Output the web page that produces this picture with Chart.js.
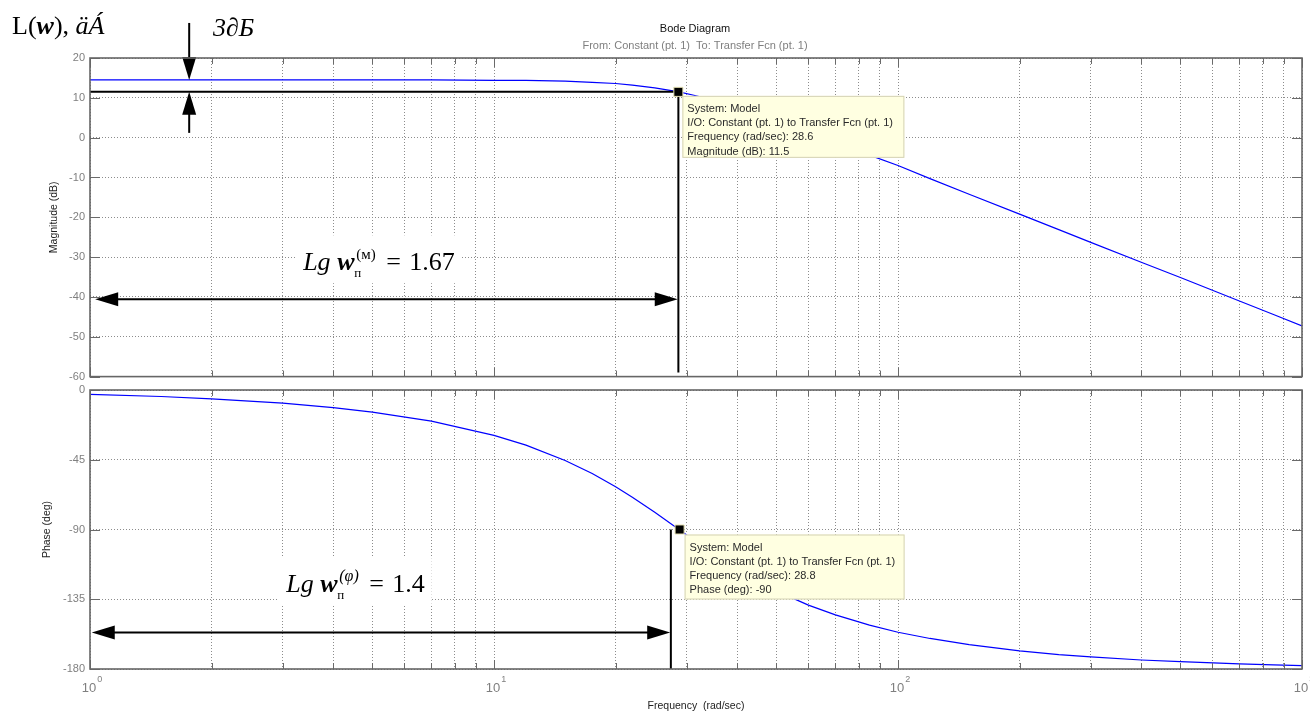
<!doctype html>
<html lang="en">
<head>
<meta charset="utf-8">
<title>Bode Diagram</title>
<script src="https://cdn.jsdelivr.net/npm/chart.js"></script>
<style>
    body { margin: 0; background: #fff; }
    canvas { position: absolute; left: 0; }
    #magChart { top: 0; }
    #phaseChart { top: 380px; }
</style>
</head>
<body>
<canvas id="magChart" width="1310" height="384"></canvas>
<canvas id="phaseChart" width="1310" height="332"></canvas>

<script>
    // frequency response
    var freq = [1, 1.5, 2, 3, 4, 5, 7, 10, 12, 15, 17.5, 20, 22, 25, 28.7, 32, 35, 40, 45, 50,
        60, 70, 85, 100, 120, 150, 200, 250, 300, 400, 500, 700, 850, 1000];
    var magDb = [14.5, 14.5, 14.5, 14.5, 14.5, 14.5, 14.5, 14.4, 14.4, 14.2, 13.9, 13.6, 13.2, 12.5, 11.5, 10.4, 9.4, 7.7, 6.0, 4.4,
        1.5, -1.1, -4.4, -7.0, -10.3, -14.2, -19.2, -23.1, -26.3, -31.3, -35.1, -41.0, -44.4, -47.3];
    var phaseDeg = [-2.8, -4.2, -5.7, -8.5, -11.4, -14.3, -20.1, -29.3, -35.6, -45.5, -53.9, -62.4, -69.2, -78.9, -90, -98.8, -105.8, -115.6, -123.3, -129.6,
        -138.8, -145.1, -151.7, -156.3, -160.3, -164.3, -168.3, -170.7, -172.2, -174.2, -175.3, -176.7, -177.3, -177.8];

    // data tips
    var magTipFreq = [28.6];
    var magTipDb = [11.5];
    var phaseTipFreq = [28.8];
    var phaseTipDeg = [-90];

    // axes
    var decadeExp = [0, 1, 2, 3];
    var magTicks = [20, 10, 0, -10, -20, -30, -40, -50, -60];
    var phaseTicks = [0, -45, -90, -135, -180];

    var sans = '"Liberation Sans", Arial, sans-serif';
    var serif = '"Liberation Serif", "Times New Roman", serif';
    var gridColor = '#8c8c8c';

    var freqTicks = [];
    decadeExp.forEach(function(e) {
        if (e === decadeExp[decadeExp.length - 1]) {
            freqTicks.push(Math.pow(10, e));
            return;
        }
        for (var m = 1; m <= 9; m++) freqTicks.push(m * Math.pow(10, e));
    });

    function xy(xs, ys) {
        return xs.map(function(x, i) { return {x: x, y: ys[i]}; });
    }

    function pt(chart, f, v) {
        return {x: chart.scales.x.getPixelForValue(f), y: chart.scales.y.getPixelForValue(v)};
    }

    function line(ctx, a, b) {
        ctx.beginPath();
        ctx.moveTo(a.x, a.y);
        ctx.lineTo(b.x, b.y);
        ctx.stroke();
    }

    function head(ctx, x, y, dx, dy) {
        var len = 23, hw = 7;
        var bx = x - dx * len, by = y - dy * len;
        ctx.beginPath();
        ctx.moveTo(x, y);
        ctx.lineTo(bx - dy * hw, by + dx * hw);
        ctx.lineTo(bx + dy * hw, by - dx * hw);
        ctx.closePath();
        ctx.fill();
    }

    function hArrow(ctx, l, r) {
        line(ctx, {x: l.x + 10, y: l.y}, {x: r.x - 10, y: r.y});
        head(ctx, l.x, l.y, -1, 0);
        head(ctx, r.x, r.y, 1, 0);
    }

    function drawLg(ctx, pos, sup, supFont, val) {
        var x = pos.x, y = pos.y;
        ctx.save();
        ctx.font = '26px ' + serif;
        var right = x + 106 + ctx.measureText(val).width + 7;
        ctx.fillStyle = '#fff';
        ctx.fillRect(x - 8, y - 35, right - (x - 8), 48);
        ctx.fillStyle = '#000';
        ctx.textAlign = 'left';
        ctx.textBaseline = 'alphabetic';
        ctx.font = 'italic 26px ' + serif;
        ctx.fillText('Lg', x, y);
        ctx.font = 'italic bold 26px ' + serif;
        ctx.fillText('w', x + 34, y);
        ctx.font = '13px ' + serif;
        ctx.fillText('п', x + 51, y + 7);
        ctx.font = supFont;
        ctx.fillText(sup, x + 53, y - 11);
        ctx.font = '26px ' + serif;
        ctx.fillText('=', x + 83, y);
        ctx.fillText(val, x + 106, y);
        ctx.restore();
    }

    function drawTip(ctx, x, y, w, h, lines) {
        ctx.save();
        ctx.fillStyle = '#ffffe1';
        ctx.fillRect(x, y, w, h);
        ctx.strokeStyle = '#d4d2b4';
        ctx.lineWidth = 1;
        ctx.strokeRect(x + 0.5, y + 0.5, w - 1, h - 1);
        ctx.fillStyle = '#2a2a2a';
        ctx.font = '11px ' + sans;
        ctx.textAlign = 'left';
        ctx.textBaseline = 'middle';
        lines.forEach(function(s, i) {
            ctx.fillText(s, x + 5, y + 13 + i * 14.3);
        });
        ctx.restore();
    }

    function isDecade(v) {
        var l = Math.log10(v);
        return Math.abs(l - Math.round(l)) < 1e-9;
    }

    var framePlugin = {
        id: 'frame',
        afterDraw: function(chart) {
            var ctx = chart.ctx, a = chart.chartArea;
            var xs = chart.scales.x, ys = chart.scales.y;
            ctx.save();
            ctx.strokeStyle = '#6a6a6a';
            ctx.lineWidth = 1;
            ctx.beginPath();
            xs.ticks.forEach(function(t) {
                var x = Math.round(xs.getPixelForValue(t.value)) + 0.5;
                var len = isDecade(t.value) ? 9 : 6;
                ctx.moveTo(x, a.bottom);
                ctx.lineTo(x, a.bottom - len);
                ctx.moveTo(x, a.top);
                ctx.lineTo(x, a.top + len);
            });
            ys.ticks.forEach(function(t) {
                var y = Math.round(ys.getPixelForValue(t.value)) + 0.5;
                ctx.moveTo(a.left, y);
                ctx.lineTo(a.left + 10, y);
                ctx.moveTo(a.right, y);
                ctx.lineTo(a.right - 10, y);
            });
            ctx.stroke();
            ctx.lineWidth = 1.6;
            ctx.strokeStyle = '#666';
            ctx.strokeRect(a.left, a.top, a.right - a.left, a.bottom - a.top);
            ctx.restore();
        }
    };

    var magOverlay = {
        id: 'magOverlay',
        afterDatasetDraw: function(chart, args) {
            if (args.index !== 0) return;
            var ctx = chart.ctx;
            var p = function(f, v) { return pt(chart, f, v); };
            drawLg(ctx, p(3.37, -33.3), '(м)', '15px ' + serif, '1.67');

            ctx.save();
            ctx.strokeStyle = '#000';
            ctx.fillStyle = '#000';
            ctx.lineWidth = 2;
            var tip = p(magTipFreq[0], magTipDb[0]);
            line(ctx, p(1, magTipDb[0]), tip);
            line(ctx, tip, p(magTipFreq[0], -59));
            hArrow(ctx, p(1.03, -40.6), p(28.5, -40.6));

            // 3 dB arrows
            var top = p(1.76, 28.8), hi = p(1.76, magDb[0]);
            var lo = p(1.76, magTipDb[0]), tail = p(1.76, 1.2);
            line(ctx, top, {x: hi.x, y: hi.y - 10});
            head(ctx, hi.x, hi.y, 0, 1);
            line(ctx, {x: lo.x, y: lo.y + 10}, tail);
            head(ctx, lo.x, lo.y, 0, -1);
            ctx.restore();

            drawTip(ctx, tip.x + 4, tip.y + 4, 222, 62, [
                'System: Model',
                'I/O: Constant (pt. 1) to Transfer Fcn (pt. 1)',
                'Frequency (rad/sec): ' + magTipFreq[0],
                'Magnitude (dB): ' + magTipDb[0]
            ]);
        },
        afterDraw: function(chart) {
            var ctx = chart.ctx, a = chart.chartArea;
            var cx = (a.left + a.right) / 2 - 1;
            ctx.save();
            ctx.textAlign = 'center';
            ctx.textBaseline = 'middle';
            ctx.font = '11px ' + sans;
            ctx.fillStyle = '#111';
            ctx.fillText('Bode Diagram', cx, a.top - 29);
            ctx.fillStyle = '#7f7f7f';
            ctx.fillText('From: Constant (pt. 1)  To: Transfer Fcn (pt. 1)', cx, a.top - 12);

            // hand-written labels at top left
            ctx.fillStyle = '#000';
            ctx.textAlign = 'left';
            ctx.textBaseline = 'alphabetic';
            var x = a.left - 78, y = a.top - 24;
            ctx.font = '26px ' + serif;
            ctx.fillText('L(', x, y);
            x += ctx.measureText('L(').width;
            ctx.font = 'italic bold 26px ' + serif;
            ctx.fillText('w', x, y);
            x += ctx.measureText('w').width;
            ctx.font = '26px ' + serif;
            ctx.fillText('), ', x, y);
            x += ctx.measureText('), ').width;
            ctx.font = 'italic 26px ' + serif;
            ctx.fillText('äÁ', x, y);
            ctx.font = 'italic 26px ' + serif;
            ctx.fillText('3∂Б', a.left + 123, a.top - 22);
            ctx.restore();
        }
    };

    var phaseOverlay = {
        id: 'phaseOverlay',
        afterDatasetDraw: function(chart, args) {
            if (args.index !== 0) return;
            var ctx = chart.ctx;
            var p = function(f, v) { return pt(chart, f, v); };
            drawLg(ctx, p(3.06, -130.3), '(φ)', 'italic 16px ' + serif, '1.4');

            ctx.save();
            ctx.strokeStyle = '#000';
            ctx.fillStyle = '#000';
            ctx.lineWidth = 2;
            line(ctx, p(27.4, phaseTipDeg[0]), p(27.4, -180));
            hArrow(ctx, p(1.01, -156.5), p(27.3, -156.5));
            ctx.restore();

            var tip = p(phaseTipFreq[0], phaseTipDeg[0]);
            drawTip(ctx, tip.x + 5, tip.y + 5, 220, 65, [
                'System: Model',
                'I/O: Constant (pt. 1) to Transfer Fcn (pt. 1)',
                'Frequency (rad/sec): ' + phaseTipFreq[0],
                'Phase (deg): ' + phaseTipDeg[0]
            ]);
        },
        afterDraw: function(chart) {
            var ctx = chart.ctx, a = chart.chartArea, xs = chart.scales.x;
            ctx.save();
            ctx.fillStyle = '#7f7f7f';
            ctx.textBaseline = 'middle';
            decadeExp.forEach(function(e) {
                var x = xs.getPixelForValue(Math.pow(10, e));
                ctx.font = '13px ' + sans;
                ctx.textAlign = 'center';
                ctx.fillText('10', x - 1, a.bottom + 19);
                var w = ctx.measureText('10').width;
                ctx.font = '9px ' + sans;
                ctx.textAlign = 'left';
                ctx.fillText(String(e), x - 1 + w / 2 + 1, a.bottom + 11);
            });
            ctx.restore();
        }
    };

    function xScale(extra) {
        var s = {
            type: 'logarithmic',
            min: 1,
            max: 1000,
            afterBuildTicks: function(sc) {
                sc.ticks = freqTicks.map(function(v) { return {value: v}; });
            },
            grid: {color: gridColor, drawTicks: false},
            border: {display: false, dash: [1, 2]},
            ticks: {display: false}
        };
        return Object.assign(s, extra);
    }

    function yScale(min, max, ticks, title, titlePad) {
        return {
            min: min,
            max: max,
            afterBuildTicks: function(sc) {
                sc.ticks = ticks.map(function(v) { return {value: v}; });
            },
            afterFit: function(sc) {
                sc.width = 90;
                sc.paddingTop = 0;
                sc.paddingBottom = 0;
            },
            grid: {color: gridColor, drawTicks: false},
            border: {display: false, dash: [1, 2]},
            ticks: {color: '#7f7f7f', padding: 5, font: {family: sans, size: 11}},
            title: {
                display: true,
                text: title,
                color: '#222',
                font: {family: sans, size: 10.5},
                padding: {top: titlePad, bottom: 0}
            }
        };
    }

    var common = {
        responsive: false,
        animation: false,
        plugins: {legend: {display: false}, tooltip: {enabled: false}}
    };

    new Chart(document.getElementById('magChart').getContext('2d'), {
        type: 'line',
        data: {
            datasets: [{
                data: xy(freq, magDb),
                borderColor: '#0000ff',
                borderWidth: 1.2,
                pointRadius: 0,
                tension: 0,
                order: 2
            }, {
                data: xy(magTipFreq, magTipDb),
                showLine: false,
                pointStyle: 'rect',
                pointRadius: 6.4,
                backgroundColor: '#000',
                borderColor: '#e6e2b4',
                borderWidth: 1,
                order: 1
            }]
        },
        options: Object.assign({}, common, {
            layout: {padding: {top: 58, right: 8, bottom: 3, left: 0}},
            scales: {
                x: xScale({afterFit: function(sc) { sc.height = 0; }}),
                y: yScale(-60, 20, magTicks, 'Magnitude (dB)', 48)
            }
        }),
        plugins: [framePlugin, magOverlay]
    });

    new Chart(document.getElementById('phaseChart').getContext('2d'), {
        type: 'line',
        data: {
            datasets: [{
                data: xy(freq, phaseDeg),
                borderColor: '#0000ff',
                borderWidth: 1.2,
                pointRadius: 0,
                tension: 0,
                order: 2
            }, {
                data: xy(phaseTipFreq, phaseTipDeg),
                showLine: false,
                pointStyle: 'rect',
                pointRadius: 6.4,
                backgroundColor: '#000',
                borderColor: '#e6e2b4',
                borderWidth: 1,
                order: 1
            }]
        },
        options: Object.assign({}, common, {
            layout: {padding: {top: 10, right: 8, bottom: 0, left: 0}},
            scales: {
                x: xScale({
                    afterFit: function(sc) { sc.height = 43; },
                    title: {
                        display: true,
                        text: 'Frequency  (rad/sec)',
                        color: '#222',
                        font: {family: sans, size: 10.5},
                        padding: {top: 0, bottom: 0}
                    }
                }),
                y: yScale(-180, 0, phaseTicks, 'Phase (deg)', 41)
            }
        }),
        plugins: [framePlugin, phaseOverlay]
    });
</script>
</body>
</html>
